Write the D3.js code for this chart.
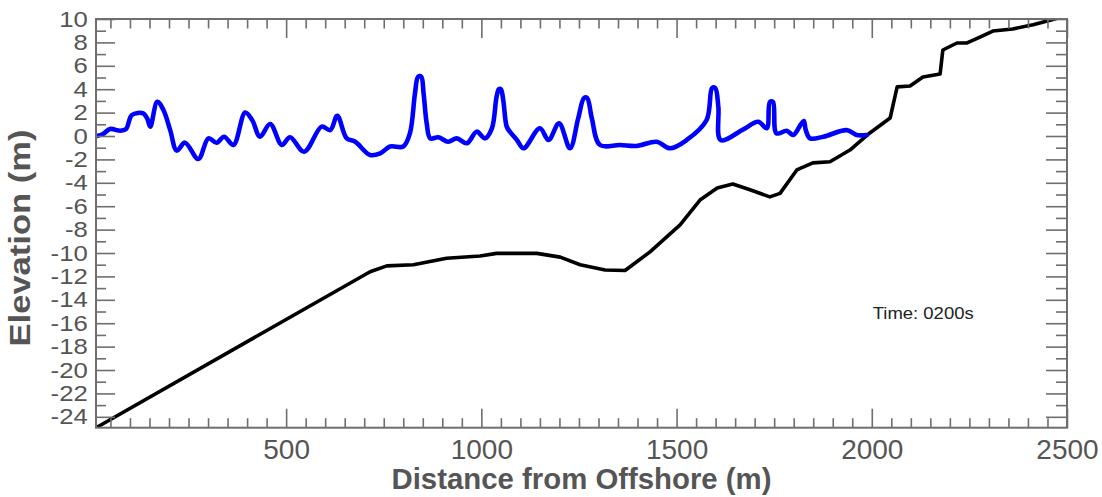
<!DOCTYPE html>
<html>
<head>
<meta charset="utf-8">
<script src="https://cdn.jsdelivr.net/npm/d3@7"></script>
<style>
  body { margin: 0; background: #fff; }
  svg { display: block; font-family: "Liberation Sans", Arial, sans-serif; }
</style>
</head>
<body>
<svg id="chart" width="1102" height="497"></svg>
<script>
// water surface at t = 200 s
const surfaceX = [15, 31, 49, 75, 90, 105, 134, 144, 152, 170, 186, 203, 220, 241, 275, 301, 322, 341, 365, 395,
    413, 433, 459, 489, 510, 546, 591, 613, 631, 655, 677, 715, 741, 766, 800, 817, 830, 838, 846, 852,
    860, 869, 890, 915, 937, 963, 988, 1009, 1027, 1039, 1045, 1050, 1056, 1065, 1073, 1091, 1108, 1150, 1172, 1199,
    1227, 1248, 1263, 1271, 1283, 1304, 1355, 1398, 1449, 1483, 1526, 1577, 1591, 1599, 1607, 1613, 1671, 1709, 1731, 1739,
    1747, 1756, 1782, 1799, 1819, 1826, 1831, 1842, 1876, 1936, 1961, 1987];
const surfaceY = [0.0, 0.17, 0.6, 0.45, 0.6, 1.8, 1.94, 1.5, 0.8, 2.93, 2.2, 0.5, -1.25, -0.57, -1.97, -0.2, -0.57, -0.06, -0.77, 2.0,
    1.37, -0.06, 1.03, -0.77, -0.11, -1.34, 0.8, 0.5, 1.73, -0.2, -0.49, -1.62, -1.48, -0.9, -0.9, 0.23, 3.65, 5.07, 5.07, 3.65,
    1.09, -0.2, -0.11, -0.49, -0.2, -0.62, 0.37, -0.2, 0.66, 3.36, 4.0, 4.0, 3.08, 0.8, 0.37, -0.34, -1.05, 0.66, -0.34, 1.08,
    -1.05, 1.5, 3.25, 3.25, 1.5, -0.77, -0.77, -0.85, -0.49, -1.05, -0.34, 1.37, 4.1, 4.1, 2.5, -0.34, 0.57, 1.22, 0.66, 2.9,
    2.9, 0.23, 0.45, 0.09, 1.03, 1.28, 0.5, -0.2, -0.06, 0.5, 0.09, 0.09];

// bottom profile
const bottomX = [13, 715, 758, 826, 911, 997, 1039, 1142, 1202, 1253, 1317, 1368, 1432, 1509, 1560, 1604, 1644, 1688, 1739, 1765,
    1808, 1849, 1893, 1944, 1995, 2047, 2065, 2098, 2131, 2175, 2182, 2218, 2244, 2277, 2310, 2361, 2413, 2457, 2500];
const bottomY = [-24.93, -11.6, -11.1, -11.0, -10.45, -10.26, -10.03, -10.03, -10.35, -11.0, -11.45, -11.5, -9.9, -7.6, -5.47, -4.44, -4.1, -4.6, -5.2, -4.9,
    -2.9, -2.3, -2.2, -1.2, 0.26, 1.54, 4.2, 4.27, 5.04, 5.3, 7.35, 7.95, 7.95, 8.46, 8.97, 9.15, 9.5, 9.9, 10.3];

const xMajorTicks = [500, 1000, 1500, 2000, 2500];
const yMajorTicks = d3.range(-24, 11, 2);
const timeLabel = "Time: 0200s";

const margin = { top: 19, right: 35, bottom: 69.3, left: 96 };
const svg = d3.select("#chart");
const width = 1102 - margin.left - margin.right;
const height = 497 - margin.top - margin.bottom;

const x = d3.scaleLinear().domain([13, 2500]).range([0, width]);
const y = d3.scaleLinear().domain([-24.93, 10]).range([height, 0]);

const axisColor = "#6e6e6e";
const textColor = "#555";

const g = svg.append("g").attr("transform", `translate(${margin.left},${margin.top})`);

g.append("clipPath").attr("id", "plot-clip")
    .append("rect").attr("width", width).attr("height", height);

const line = d3.line().x(d => x(d[0])).y(d => y(d[1]));
const smoothLine = d3.line().x(d => x(d[0])).y(d => y(d[1])).curve(d3.curveCatmullRom.alpha(0.5));
const surface = surfaceX.map((v, i) => [v, surfaceY[i]]);
const bottom = bottomX.map((v, i) => [v, bottomY[i]]);

const lines = g.append("g").attr("clip-path", "url(#plot-clip)").attr("fill", "none")
    .attr("stroke-linejoin", "round").attr("stroke-linecap", "round");
lines.append("path").datum(bottom).attr("stroke", "#000").attr("stroke-width", 3.6).attr("d", line);
lines.append("path").datum(surface).attr("stroke", "#0000ff").attr("stroke-width", 4.6).attr("d", smoothLine);

const xMinor = d3.range(50, 2500, 50).filter(d => d % 500 !== 0);
const yMinor = d3.range(-24, 10, 1).filter(d => d % 2 !== 0);

function styleAxis(sel) {
    sel.select(".domain").remove();
    sel.selectAll("line").attr("stroke", axisColor).attr("stroke-width", 1.6);
}

// minor ticks, all four sides
g.append("g").attr("transform", `translate(0,${height})`)
    .call(d3.axisBottom(x).tickValues(xMinor).tickSize(-9.5).tickFormat(""))
    .call(styleAxis);
g.append("g")
    .call(d3.axisTop(x).tickValues(xMinor).tickSize(-9.5).tickFormat(""))
    .call(styleAxis);
g.append("g")
    .call(d3.axisLeft(y).tickValues(yMinor).tickSize(-10).tickFormat(""))
    .call(styleAxis);
g.append("g").attr("transform", `translate(${width},0)`)
    .call(d3.axisRight(y).tickValues(yMinor).tickSize(-11).tickFormat(""))
    .call(styleAxis);

// major ticks with labels
g.append("g").attr("transform", `translate(0,${height})`)
    .call(d3.axisBottom(x).tickValues(xMajorTicks).tickSizeInner(-19).tickSizeOuter(0).tickPadding(11.5).tickFormat(d => String(d)))
    .call(styleAxis)
    .selectAll("text")
    .attr("fill", textColor).attr("font-size", 28);
g.append("g")
    .call(d3.axisTop(x).tickValues(xMajorTicks).tickSizeInner(-19).tickSizeOuter(0).tickFormat(""))
    .call(styleAxis);
g.append("g")
    .call(d3.axisLeft(y).tickValues(yMajorTicks).tickSizeInner(-19).tickSizeOuter(0).tickPadding(7).tickFormat(d => String(d)))
    .call(styleAxis)
    .selectAll("text")
    .attr("fill", textColor).attr("font-size", 22)
    .attr("transform", "scale(1.17,1)");
g.append("g").attr("transform", `translate(${width},0)`)
    .call(d3.axisRight(y).tickValues(yMajorTicks).tickSizeInner(-21).tickSizeOuter(0).tickFormat(""))
    .call(styleAxis);

g.append("rect")
    .attr("width", width).attr("height", height)
    .attr("fill", "none").attr("stroke", axisColor).attr("stroke-width", 2);

// titles
svg.append("text")
    .attr("x", margin.left + width / 2).attr("y", 489)
    .attr("text-anchor", "middle")
    .attr("font-size", 29).attr("font-weight", "bold").attr("fill", textColor)
    .attr("textLength", 380).attr("lengthAdjust", "spacingAndGlyphs")
    .text("Distance from Offshore (m)");

svg.append("text")
    .attr("transform", "translate(29.5,238) rotate(-90)")
    .attr("text-anchor", "middle")
    .attr("font-size", 29).attr("font-weight", "bold").attr("fill", textColor)
    .attr("textLength", 217).attr("lengthAdjust", "spacingAndGlyphs")
    .text("Elevation (m)");

svg.append("text")
    .attr("x", 872.7).attr("y", 319.3)
    .attr("font-size", 17).attr("fill", "#222")
    .attr("textLength", 101).attr("lengthAdjust", "spacingAndGlyphs")
    .text(timeLabel);
</script>
</body>
</html>
